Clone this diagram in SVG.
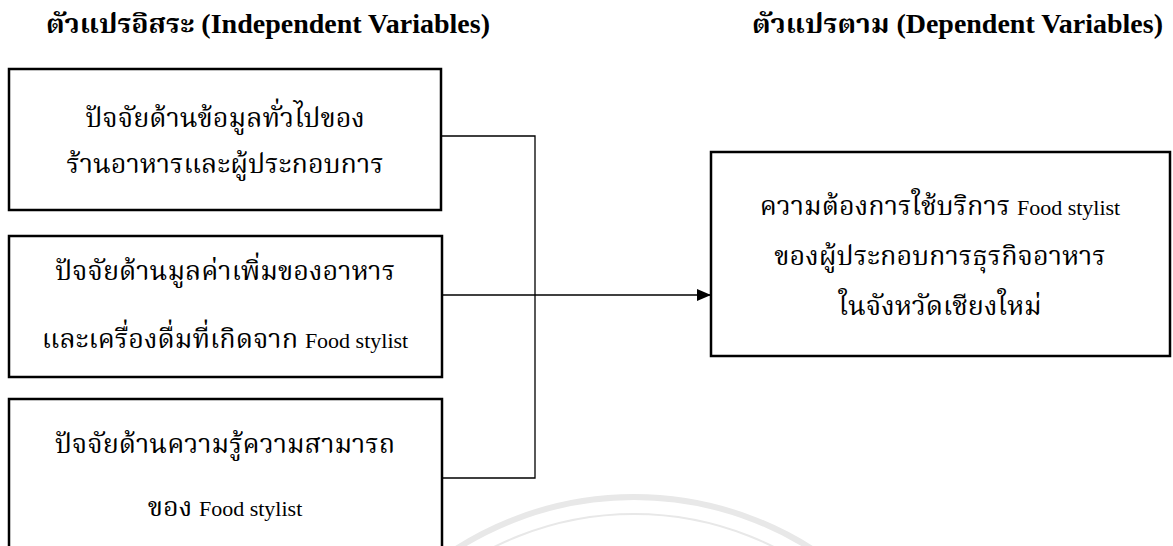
<svg xmlns="http://www.w3.org/2000/svg" width="1173" height="546" viewBox="0 0 1173 546">
  <style>
    .box { fill: #ffffff; stroke: #000000; stroke-width: 2.5; }
    .conn { fill: none; stroke: #000000; stroke-width: 1.3; }
    .hdr { font-family: "Liberation Serif", "Noto Serif Thai", "Noto Sans Thai", "DejaVu Serif", serif; font-weight: bold; font-size: 27px; fill: #000; }
    .t { font-family: "Liberation Serif", "Noto Serif Thai", "Noto Sans Thai", "DejaVu Serif", serif; font-size: 27px; fill: #000; text-anchor: middle; }
    .en { font-size: 22px; }
    .wm { fill: none; stroke: #e8e8e8; }
  </style>
  <defs>
    <marker id="arrow" markerWidth="14" markerHeight="14" refX="13" refY="7" orient="auto" markerUnits="userSpaceOnUse">
      <path d="M0,1 L14,7 L0,13 Z" fill="#000000"/>
    </marker>
  </defs>
  <rect width="1173" height="546" fill="#ffffff"/>

  <g id="watermark">
    <circle class="wm" cx="634" cy="827" r="330" stroke-width="6"/>
    <circle class="wm" cx="634" cy="827" r="313" stroke-width="2"/>
  </g>

  <g id="header-independent">
    <text class="hdr" x="46" y="33" textLength="444" lengthAdjust="spacingAndGlyphs">ตัวแปรอิสระ (Independent Variables)</text>
  </g>
  <g id="header-dependent">
    <text class="hdr" x="752" y="33" textLength="411" lengthAdjust="spacingAndGlyphs">ตัวแปรตาม (Dependent Variables)</text>
  </g>

  <g id="connectors">
    <polyline class="conn" points="441,136 535,136 535,478 442,478"/>
    <line class="conn" x1="442" y1="295" x2="710" y2="295" marker-end="url(#arrow)"/>
  </g>

  <g id="node-general">
    <rect class="box" x="9" y="69" width="432" height="141"/>
    <text class="t" x="225" y="127">ปัจจัยด้านข้อมูลทั่วไปของ</text>
    <text class="t" x="225" y="173">ร้านอาหารและผู้ประกอบการ</text>
  </g>

  <g id="node-value">
    <rect class="box" x="9" y="236" width="433" height="141"/>
    <text class="t" x="225" y="280">ปัจจัยด้านมูลค่าเพิ่มของอาหาร</text>
    <text class="t" x="225" y="348">และเครื่องดื่มที่เกิดจาก <tspan class="en">Food stylist</tspan></text>
  </g>

  <g id="node-knowledge">
    <rect class="box" x="9" y="399" width="433" height="170"/>
    <text class="t" x="225" y="453">ปัจจัยด้านความรู้ความสามารถ</text>
    <text class="t" x="225" y="516">ของ <tspan class="en">Food stylist</tspan></text>
  </g>

  <g id="node-dependent">
    <rect class="box" x="711" y="152" width="459" height="204"/>
    <text class="t" x="940" y="215">ความต้องการใช้บริการ <tspan class="en">Food stylist</tspan></text>
    <text class="t" x="940" y="265">ของผู้ประกอบการธุรกิจอาหาร</text>
    <text class="t" x="940" y="315">ในจังหวัดเชียงใหม่</text>
  </g>
</svg>
